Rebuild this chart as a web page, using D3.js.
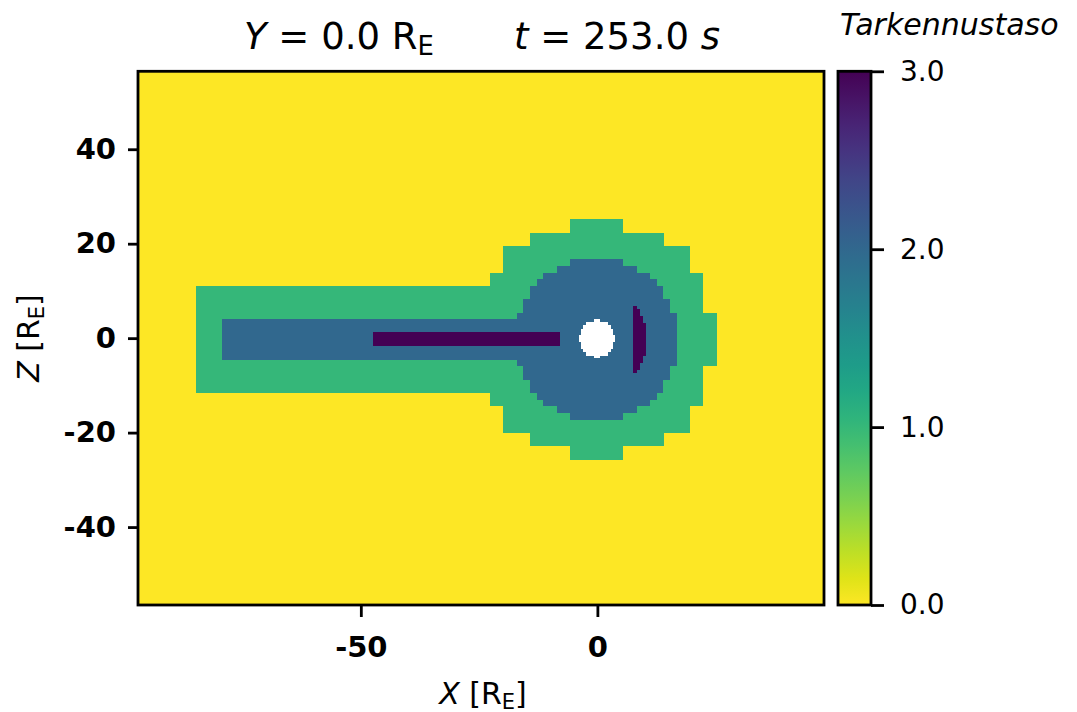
<!DOCTYPE html>
<html>
<head>
<meta charset="utf-8">
<script src="https://cdn.jsdelivr.net/npm/d3@7"></script>
<style>
  body { margin: 0; background: #fff; }
  text { font-family: "DejaVu Sans", sans-serif; }
</style>
</head>
<body>
<div id="chart"></div>
<script>
// Refinement levels and ticks
const levels = [0, 1, 2, 3];
const xTicks = [-50, 0];
const zTicks = [-40, -20, 0, 20, 40];
const cbarTicks = [0, 1, 2, 3];

// Regions of each level, [x0, x1, z0, z1] in Earth radii
const level1Cells = [
    [-84.9, -22.7, -11.4, 11.07],
    [-5.8, 5.5, 22.35, 25.2],
    [-14.2, 14.0, 19.5, 22.35],
    [-19.9, 19.6, 13.9, 19.5],
    [-22.7, 22.4, 5.42, 13.9],
    [-22.7, 25.27, -5.86, 5.42],
    [-22.7, 22.4, -14.3, -5.86],
    [-19.9, 19.6, -19.9, -14.3],
    [-14.2, 14.0, -22.75, -19.9],
    [-5.8, 5.5, -25.6, -22.75]
];
const level2Cells = [
    [-79.3, -17.06, -4.44, 4.08],
    [-5.8, 5.5, 15.3, 16.7],
    [-8.6, 8.34, 13.9, 15.3],
    [-11.4, 11.15, 12.5, 13.9],
    [-12.8, 12.57, 11.07, 12.5],
    [-14.24, 13.97, 8.26, 11.07],
    [-15.66, 15.39, 5.42, 8.26],
    [-17.06, 16.8, -5.86, 5.42],
    [-15.66, 15.39, -8.7, -5.86],
    [-14.24, 13.97, -11.47, -8.7],
    [-12.8, 12.57, -12.9, -11.47],
    [-11.4, 11.15, -14.3, -12.9],
    [-8.6, 8.34, -15.7, -14.3],
    [-5.8, 5.5, -17.1, -15.7]
];
const level3Cells = [
    [-47.4, -7.9, -1.56, 1.27],
    [7.6, 8.34, 6.2, 6.84],
    [7.6, 9.04, 4.72, 6.2],
    [7.6, 9.74, 3.3, 4.72],
    [7.6, 10.3, -3.75, 3.3],
    [7.6, 9.74, -5.16, -3.75],
    [7.6, 9.04, -6.57, -5.16],
    [7.6, 8.34, -7.28, -6.57]
];
// inner boundary (no data)
const innerCells = [
    [-0.63, 0.51, 3.45, 4.15],
    [-2.32, 2.2, 2.75, 3.45],
    [-3.02, 2.9, 2.03, 2.75],
    [-3.44, 3.32, 0.63, 2.03],
    [-3.93, 3.8, -0.78, 0.63],
    [-3.44, 3.32, -2.2, -0.78],
    [-3.02, 2.9, -2.9, -2.2],
    [-2.32, 2.2, -3.6, -2.9],
    [-0.63, 0.51, -4.17, -3.6]
];

const xDomain = [-97.1, 47.9];
const zDomain = [-56.5, 56.5];

const W = 1077, H = 712;
const margin = { top: 71.3, left: 138 };
const width = 686, height = 533.7;

const svg = d3.select("#chart").append("svg")
    .attr("width", W).attr("height", H);

const xScale = d3.scaleLinear().domain(xDomain).range([margin.left, margin.left + width]);
const zScale = d3.scaleLinear().domain(zDomain).range([margin.top + height, margin.top]);
const color = d3.scaleSequential(d3.interpolateViridis).domain([3, 0]);

svg.append("defs").append("clipPath").attr("id", "plotclip")
    .append("rect")
    .attr("x", margin.left).attr("y", margin.top)
    .attr("width", width).attr("height", height);

const plot = svg.append("g").attr("clip-path", "url(#plotclip)")
    .attr("shape-rendering", "crispEdges");

// level 0 background
plot.append("rect")
    .attr("x", xScale(xDomain[0])).attr("y", zScale(zDomain[1]))
    .attr("width", xScale(xDomain[1]) - xScale(xDomain[0]))
    .attr("height", zScale(zDomain[0]) - zScale(zDomain[1]))
    .attr("fill", color(levels[0]));

function drawCells(cells, fill) {
    plot.append("g").selectAll("rect")
        .data(cells)
        .enter().append("rect")
        .attr("x", d => xScale(d[0]))
        .attr("width", d => xScale(d[1]) - xScale(d[0]))
        .attr("y", d => zScale(d[3]))
        .attr("height", d => zScale(d[2]) - zScale(d[3]) + 0.6)
        .attr("fill", fill);
}
drawCells(level1Cells, color(levels[1]));
drawCells(level2Cells, color(levels[2]));
drawCells(level3Cells, color(levels[3]));
drawCells(innerCells, "#ffffff");

// axes
const xAxis = svg.append("g")
    .attr("transform", "translate(0," + (margin.top + height) + ")")
    .call(d3.axisBottom(xScale).tickValues(xTicks).tickSize(12).tickPadding(19)
        .tickFormat(d => d3.format("d")(d).replace("\u2212", "-")));
const zAxis = svg.append("g")
    .attr("transform", "translate(" + margin.left + ",0)")
    .call(d3.axisLeft(zScale).tickValues(zTicks).tickSize(10).tickPadding(12)
        .tickFormat(d => d3.format("d")(d).replace("\u2212", "-")));
[xAxis, zAxis].forEach(a => {
    a.select(".domain").remove();
    a.selectAll(".tick line").attr("stroke", "#000").attr("stroke-width", 2.8);
    a.selectAll(".tick text").attr("fill", "#000")
        .style("font-size", "29px").style("font-weight", "bold")
        .style("font-family", "DejaVu Sans");
});

svg.append("rect")
    .attr("x", margin.left).attr("y", margin.top)
    .attr("width", width).attr("height", height)
    .attr("fill", "none").attr("stroke", "#000").attr("stroke-width", 2.8);

// colorbar
const cbX = 838, cbW = 33;
const cScale = d3.scaleLinear().domain([0, 3]).range([margin.top + height, margin.top]);
const grad = svg.select("defs").append("linearGradient")
    .attr("id", "cbgrad").attr("x1", 0).attr("y1", 1).attr("x2", 0).attr("y2", 0);
d3.range(0, 1.0001, 0.05).forEach(t => {
    grad.append("stop").attr("offset", t).attr("stop-color", color(t * 3));
});
svg.append("rect")
    .attr("x", cbX).attr("y", cScale(3))
    .attr("width", cbW).attr("height", cScale(0) - cScale(3))
    .attr("fill", "url(#cbgrad)")
    .attr("stroke", "#000").attr("stroke-width", 2.8);
const cAxis = svg.append("g")
    .attr("transform", "translate(" + (cbX + cbW) + ",0)")
    .call(d3.axisRight(cScale).tickValues(cbarTicks).tickSize(13).tickPadding(16)
        .tickFormat(d3.format(".1f")));
cAxis.select(".domain").remove();
cAxis.selectAll(".tick line").attr("stroke", "#000").attr("stroke-width", 2.8);
cAxis.selectAll(".tick text").attr("fill", "#000")
    .style("font-size", "28px").style("font-family", "DejaVu Sans");

svg.append("text")
    .attr("x", 840).attr("y", 35)
    .style("font-size", "30px").style("font-style", "italic")
    .text("Tarkennustaso");

// titles and labels with subscript R_E
function reLabel(sel, italicPart, pre, size) {
    sel.append("tspan").style("font-style", "italic").text(italicPart);
    sel.append("tspan").text(pre + "R");
    sel.append("tspan").attr("dy", size * 0.15).style("font-size", (size * 0.7) + "px").text("E");
}

const t1 = svg.append("text").attr("x", 244).attr("y", 49).style("font-size", "37px");
reLabel(t1, "Y", " = 0.0 ", 37);

const t2 = svg.append("text").attr("x", 514).attr("y", 49).style("font-size", "37px");
t2.append("tspan").style("font-style", "italic").text("t");
t2.append("tspan").text(" = 253.0 ");
t2.append("tspan").style("font-style", "italic").text("s");

const xl = svg.append("text").attr("x", 483).attr("y", 704)
    .attr("text-anchor", "middle").style("font-size", "30px");
reLabel(xl, "X", " [", 30);
xl.append("tspan").attr("dy", -30 * 0.15).text("]");

const zl = svg.append("text")
    .attr("transform", "translate(39,338) rotate(-90)")
    .attr("text-anchor", "middle").style("font-size", "30px");
reLabel(zl, "Z", " [", 30);
zl.append("tspan").attr("dy", -30 * 0.15).text("]");
</script>
</body>
</html>
